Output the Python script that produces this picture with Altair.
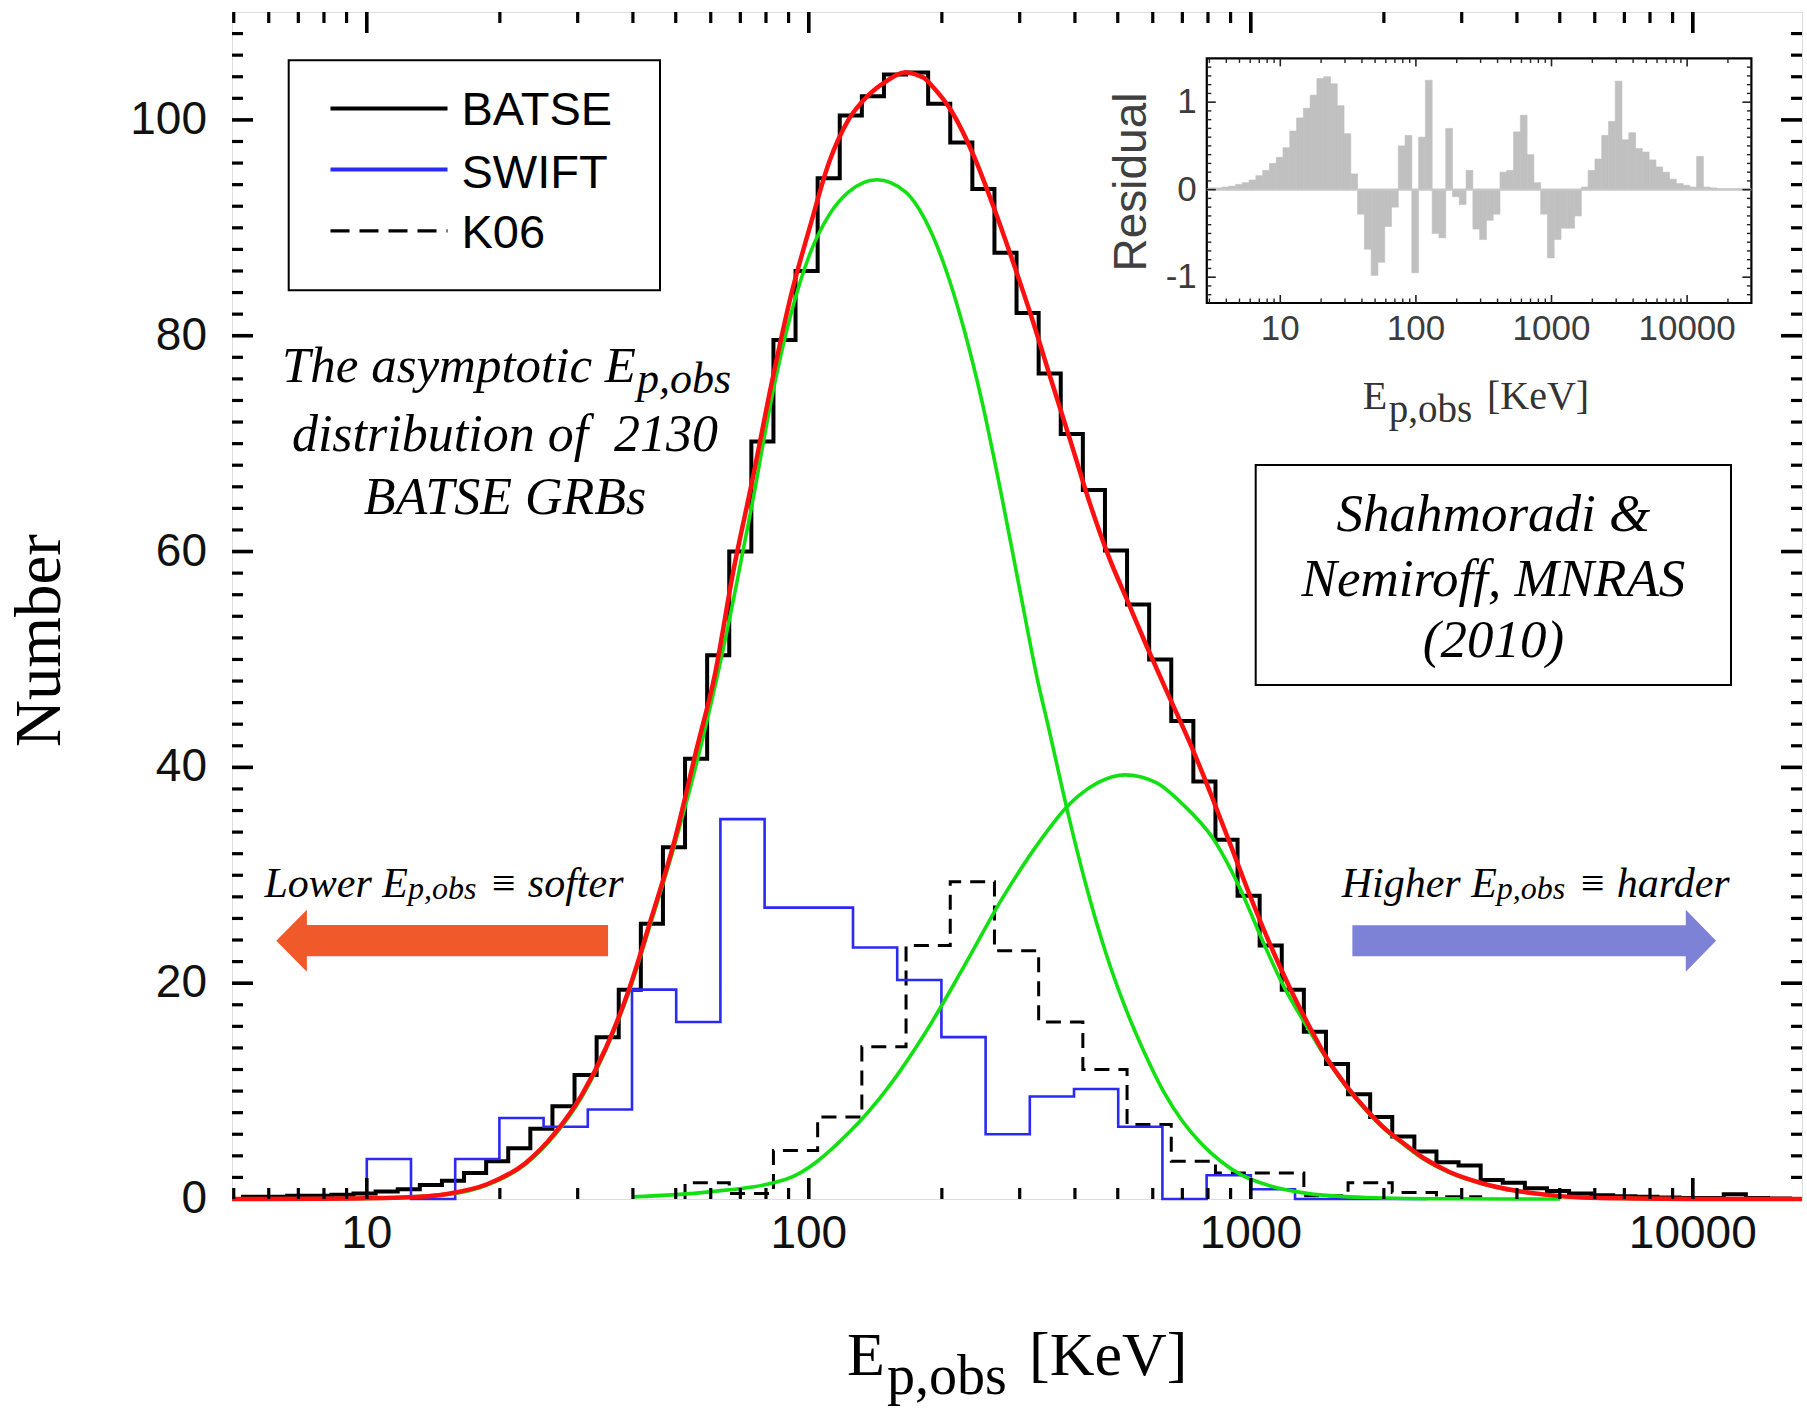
import altair as alt
import pandas as pd

# ---------------------------------------------------------------- data
# BATSE asymptotic Ep,obs histogram: 0.05-dex bins, first left edge log10(E)=0.72
BATSE_FIRST_EDGE_LOG = 0.72
BATSE_BIN_DEX = 0.05
BATSE_COUNTS = [
    0.2, 0.2, 0.3, 0.3, 0.4, 0.5, 0.7, 0.9, 1.3, 1.7,
    2.4, 3.5, 4.7, 6.5, 8.6, 11.5, 15.0, 19.4, 25.5, 32.6,
    40.8, 50.4, 60.0, 70.2, 79.6, 86.0, 94.6, 100.4, 102.2, 104.2,
    104.4, 101.5, 97.9, 93.6, 87.7, 82.1, 76.5, 70.9, 65.7, 60.1,
    55.1, 50.0, 44.3, 38.7, 33.3, 28.1, 23.5, 19.4, 15.5, 12.5,
    9.7, 7.6, 5.8, 4.4, 3.4, 3.1, 1.75, 1.5, 1.0, 0.75,
    0.5, 0.35, 0.25, 0.2, 0.15, 0.1, 0.1, 0.45, 0.1, 0.05,
]

# SWIFT histogram: 0.1-dex bins starting at 10 keV
SWIFT_FIRST_EDGE_LOG = 1.0
SWIFT_BIN_DEX = 0.1
SWIFT_COUNTS = [3.7, 0.0, 3.7, 7.5, 6.7, 8.3, 19.4, 16.4, 35.2, 27.0,
                27.0, 23.3, 20.3, 15.0, 6.0, 9.5, 10.2, 6.7, 0.0, 2.2, 0.9]
SWIFT_TAIL_E = 2500

# K06 histogram: 0.1-dex bins, first left edge log10(E)=1.72
K06_FIRST_EDGE_LOG = 1.72
K06_BIN_DEX = 0.1
K06_COUNTS = [1.5, 0.5, 4.5, 7.6, 14.1, 23.5, 29.4, 23.0, 16.4, 12.0,
              6.9, 3.5, 2.4, 2.4, 0.3, 1.5, 0.6, 0.2]

# residuals of the fit, per 0.05-dex bin, first left edge log10(E)=0.47
RESID_FIRST_EDGE_LOG = 0.47
RESID_BIN_DEX = 0.05
RESIDUALS = [
    0.02, 0.02, 0.03, 0.04, 0.06, 0.08, 0.11, 0.16, 0.22, 0.30,
    0.37, 0.48, 0.67, 0.82, 0.93, 1.08, 1.27, 1.29, 1.21, 0.96,
    0.64, 0.18, -0.28, -0.68, -0.98, -0.83, -0.42, -0.20, 0.50, 0.62,
    -0.95, 0.60, 1.25, -0.50, -0.55, 0.70, -0.08, -0.17, 0.22, -0.45,
    -0.57, -0.35, -0.28, 0.20, 0.22, 0.66, 0.85, 0.40, 0.08, -0.28,
    -0.78, -0.57, -0.44, -0.44, -0.30, 0.03, 0.22, 0.35, 0.62, 0.78,
    1.24, 0.57, 0.65, 0.47, 0.43, 0.34, 0.26, 0.20, 0.12, 0.07,
    0.05, 0.03, 0.38, 0.03, 0.02, 0.01, 0.01, 0.01, 0.01, 0.01,
]

# total fitted model (red)
FIT_E = [4.955, 7.9, 12.04, 15.3, 18.7, 22.8, 26.7, 30.7, 34.7, 39.1,
         44.0, 49.6, 55.9, 61.1, 67.5, 74.6, 82.4, 91.1, 100.6, 111.2,
         122.9, 135.7, 149.9, 164.4, 182.0, 190.5, 210.4, 237.1, 262.0, 289.4,
         319.8, 353.4, 390.4, 431.3, 476.4, 526.3, 581.8, 642.7, 673.0, 743.4,
         821.5, 907.8, 1002.5, 1108, 1224, 1352, 1494, 1651, 1824, 2015,
         2226, 2459, 2815, 3350, 3986, 4742, 5637, 7311, 10000, 17660]
FIT_N = [0.0, 0.02, 0.13, 0.49, 1.37, 3.3, 6.15, 9.7, 13.95, 19.3,
         26.0, 33.1, 41.9, 48.3, 58.2, 66.7, 75.6, 83.7, 90.1, 96.1,
         100.0, 102.2, 103.6, 104.4, 103.9, 103.1, 100.8, 96.5, 91.9, 86.9,
         81.6, 75.9, 70.3, 64.6, 59.6, 55.4, 51.2, 47.2, 45.4, 41.4,
         37.0, 32.4, 27.8, 23.5, 19.6, 16.1, 12.9, 10.4, 8.3, 6.5,
         5.1, 3.8, 2.5, 1.44, 0.76, 0.36, 0.14, 0.05, 0.01, 0.0]

# soft lognormal component (green)
SOFT_E = [4.955, 10, 15.3, 18.7, 22.8, 26.7, 30.7, 34.7, 39.1, 44.0,
          49.6, 55.9, 61.1, 67.5, 74.6, 82.4, 91.1, 100.6, 111.2, 122.9,
          142.6, 165.7, 183.0, 202.3, 223.4, 246.8, 272.6, 301.3, 329.6, 348.6,
          385.0, 425.6, 469.9, 519.3, 574.0, 633.9, 700.5, 774.1, 855.1, 944.8,
          1108, 1352, 1824, 2818, 5012]
SOFT_N = [0.0, 0.05, 0.45, 1.3, 3.2, 6.0, 9.5, 13.8, 19.1, 25.7,
          32.7, 40.6, 47.2, 55.5, 64.6, 74.2, 82.0, 87.6, 91.2, 93.3,
          94.45, 93.3, 90.8, 86.6, 80.9, 73.8, 65.3, 56.1, 48.0, 43.7,
          35.9, 28.8, 22.8, 17.8, 13.6, 10.0, 7.2, 5.1, 3.5, 2.3,
          1.2, 0.5, 0.14, 0.02, 0.0]

# hard lognormal component (green)
HARD_E = [39.8, 59.3, 88.5, 123.6, 150.9, 184.1, 224.8, 274.4, 335.1, 384.6,
          408.8, 451.9, 519.3, 609.4, 700.5, 821.5, 944.8, 1064, 1177, 1352,
          1494, 1651, 1824, 2015, 2226, 2459, 2815, 3350, 3986, 4742,
          5637, 7311, 10000]
HARD_N = [0.2, 0.66, 1.8, 6.2, 10.3, 15.5, 21.6, 27.9, 33.3, 36.4,
          37.4, 38.6, 39.3, 38.6, 36.6, 33.4, 28.8, 23.9, 20.0, 15.7,
          12.8, 10.3, 8.2, 6.4, 5.0, 3.7, 2.45, 1.4, 0.74, 0.35,
          0.14, 0.05, 0.01]

X_LABELS = ["10", "100", "1000", "10000"]
Y_LABELS = ["0", "20", "40", "60", "80", "100"]
INSET_X_LABELS = ["10", "100", "1000", "10000"]
INSET_Y_LABELS = ["1", "0", "-1"]

# ---------------------------------------------------------------- layout
W, H = 1570, 1187
XS = alt.Scale(type="log", domain=[4.955, 17660], nice=False)
YS = alt.Scale(domain=[0, 110], nice=False, zero=False)

IN_X0, IN_X1, IN_Y0, IN_Y1 = 974.8, 1519.4, 46.4, 291.0
IN_XDOM = [2.871, 29785]
IN_YDOM = [-1.295, 1.5]
IXS = alt.Scale(type="log", domain=IN_XDOM, range=[IN_X0, IN_X1], nice=False)
IYS = alt.Scale(domain=IN_YDOM, range=[IN_Y1, IN_Y0], nice=False, zero=False)

SANS = "Liberation Sans"
SERIF = "Liberation Serif"
BLUE = "#2a2af2"
GREEN = "#12e012"
RED = "#ff1010"
GREY_BAR = "#c0c0c0"
INSET_TEXT = "#3c3c3c"

ONE = pd.DataFrame({"a": [0]})


def step_outline(first_log, dex, counts, tail_e=None):
    edges = [10 ** (first_log + dex * k) for k in range(len(counts) + 1)]
    pts = [(edges[0], 0.0)]
    for k, c in enumerate(counts):
        pts.append((edges[k], c))
        pts.append((edges[k + 1], c))
    pts.append((edges[-1], 0.0))
    if tail_e:
        pts.append((tail_e, 0.0))
    return pd.DataFrame({"E": [p[0] for p in pts], "N": [p[1] for p in pts],
                         "i": list(range(len(pts)))})


def hist_line(df, color, width, dash=None):
    kw = dict(color=color, strokeWidth=width, strokeJoin="miter", strokeCap="butt")
    if dash:
        kw["strokeDash"] = dash
    return alt.Chart(df).mark_line(**kw).encode(
        x=alt.X("E:Q", scale=XS, axis=None),
        y=alt.Y("N:Q", scale=YS, axis=None),
        order="i:Q",
    )


def curve(E, N, color, width):
    return alt.Chart(pd.DataFrame({"E": E, "N": N})).mark_line(
        color=color, strokeWidth=width, interpolate="monotone"
    ).encode(
        x=alt.X("E:Q", scale=XS, axis=None),
        y=alt.Y("N:Q", scale=YS, axis=None),
    )


def label(text, x, y, size, font=SERIF, style="normal", align="left",
          baseline="alphabetic", angle=0, color="#000000"):
    kw = dict(align=align, baseline=baseline, font=font, fontSize=size,
              fontStyle=style, color=color)
    if angle:
        kw["angle"] = angle
    return alt.Chart(pd.DataFrame({"t": [text]})).mark_text(**kw).encode(
        x=alt.value(x), y=alt.value(y), text="t:N")


def x_ticks(vals, length, scale, ybot, ytop, width, color="black"):
    df = pd.DataFrame({"v": vals})
    base = alt.Chart(df).mark_rule(color=color, strokeWidth=width, strokeCap="butt")
    return [
        base.encode(x=alt.X("v:Q", scale=scale, axis=None),
                    y=alt.value(ybot), y2=alt.value(ybot - length)),
        base.encode(x=alt.X("v:Q", scale=scale, axis=None),
                    y=alt.value(ytop), y2=alt.value(ytop + length)),
    ]


def y_ticks(vals, length, scale, xleft, xright, width, color="black"):
    df = pd.DataFrame({"v": vals})
    base = alt.Chart(df).mark_rule(color=color, strokeWidth=width, strokeCap="butt")
    return [
        base.encode(y=alt.Y("v:Q", scale=scale, axis=None),
                    x=alt.value(xleft), x2=alt.value(xleft + length)),
        base.encode(y=alt.Y("v:Q", scale=scale, axis=None),
                    x=alt.value(xright), x2=alt.value(xright - length)),
    ]


# ---------------------------------------------------------------- main panel
batse = hist_line(step_outline(BATSE_FIRST_EDGE_LOG, BATSE_BIN_DEX, BATSE_COUNTS), "#000000", 4)
k06 = hist_line(step_outline(K06_FIRST_EDGE_LOG, K06_BIN_DEX, K06_COUNTS),
                "#000000", 3, dash=[15, 9])
swift = hist_line(step_outline(SWIFT_FIRST_EDGE_LOG, SWIFT_BIN_DEX, SWIFT_COUNTS, SWIFT_TAIL_E),
                  BLUE, 2.6)
soft = curve(SOFT_E, SOFT_N, GREEN, 3.6)
hard = curve(HARD_E, HARD_N, GREEN, 3.6)
fit = curve(FIT_E, FIT_N, RED, 4.5)

x_major = [10, 100, 1000, 10000]
x_minor = [m * d for d in (1, 10, 100, 1000) for m in range(2, 10) if 4.955 < m * d < 17660]
y_major = [20, 40, 60, 80, 100]
y_minor = [v for v in range(2, 110, 2) if v % 20]

main_ticks = (x_ticks(x_major, 21, XS, H, 0, 3.6) + x_ticks(x_minor, 11, XS, H, 0, 3.2)
              + y_ticks(y_major, 21, YS, 0, W, 3.6) + y_ticks(y_minor, 11, YS, 0, W, 3.2))

# tick labels of the main axes
x_lab = alt.Chart(pd.DataFrame({"v": x_major, "t": X_LABELS})).mark_text(
    align="center", baseline="alphabetic", font=SANS, fontSize=46, color="#111111"
).encode(x=alt.X("v:Q", scale=XS, axis=None), y=alt.value(H + 49), text="t:N")
y_lab = alt.Chart(pd.DataFrame({"v": [0, 20, 40, 60, 80, 100], "t": Y_LABELS})).mark_text(
    align="right", baseline="middle", font=SANS, fontSize=46, color="#111111"
).encode(y=alt.Y("v:Q", scale=YS, axis=None), x=alt.value(-25), text="t:N")

# direction arrows (centre position in data units, outline as a normalised path)
ARROWS = pd.DataFrame({"E": [14.81, 4377.0], "N": [23.94, 23.94]})
LEFT_ARROW = "M-1,0L-0.8155,-0.1869L-0.8155,-0.0946L1,-0.0946L1,0.0946L-0.8155,0.0946L-0.8155,0.1869Z"
RIGHT_ARROW = "M1,0L0.8334,-0.1705L0.8334,-0.0852L-1,-0.0852L-1,0.0852L0.8334,0.0852L0.8334,0.1705Z"
left_arrow = alt.Chart(ARROWS.iloc[[0]]).mark_point(
    shape=LEFT_ARROW, size=331.8 ** 2, filled=True, color="#f0592a", opacity=1, strokeWidth=0
).encode(x=alt.X("E:Q", scale=XS, axis=None), y=alt.Y("N:Q", scale=YS, axis=None))
right_arrow = alt.Chart(ARROWS.iloc[[1]]).mark_point(
    shape=RIGHT_ARROW, size=363.7 ** 2, filled=True, color="#7e82d6", opacity=1, strokeWidth=0
).encode(x=alt.X("E:Q", scale=XS, axis=None), y=alt.Y("N:Q", scale=YS, axis=None))

main = alt.layer(batse, k06, swift, soft, hard, fit, *main_ticks, x_lab, y_lab,
                 left_arrow, right_arrow)

# ---------------------------------------------------------------- residual inset
r_edges = [10 ** (RESID_FIRST_EDGE_LOG + RESID_BIN_DEX * k) for k in range(len(RESIDUALS) + 1)]
resid_df = pd.DataFrame({"lo": r_edges[:-1], "hi": r_edges[1:], "r": RESIDUALS,
                         "z": [0.0] * len(RESIDUALS)})

inset_frame = alt.Chart(ONE).mark_rect(fill="white", stroke="black", strokeWidth=2.2).encode(
    x=alt.value(IN_X0), x2=alt.value(IN_X1), y=alt.value(IN_Y0), y2=alt.value(IN_Y1))
zero_line = alt.Chart(pd.DataFrame({"a": [IN_XDOM[0]], "b": [IN_XDOM[1]], "z": [0.0]})).mark_rule(
    color="#c8c8c8", strokeWidth=2.2
).encode(x=alt.X("a:Q", scale=IXS, axis=None), x2="b:Q", y=alt.Y("z:Q", scale=IYS, axis=None))
resid_bars = alt.Chart(resid_df).mark_rect(color=GREY_BAR, stroke=GREY_BAR, strokeWidth=0.6).encode(
    x=alt.X("lo:Q", scale=IXS, axis=None), x2="hi:Q",
    y=alt.Y("z:Q", scale=IYS, axis=None), y2="r:Q")

ix_major = [10, 100, 1000, 10000]
ix_minor = [m * d for d in (1, 10, 100, 1000, 10000) for m in range(2, 10)
            if IN_XDOM[0] < m * d < IN_XDOM[1]]
iy_major = [-1, 0, 1]
iy_minor = [k / 10 for k in range(-12, 15) if k % 10]
inset_ticks = (x_ticks(ix_major, 8, IXS, IN_Y1, IN_Y0, 1.6, "#222222")
               + x_ticks(ix_minor, 4.5, IXS, IN_Y1, IN_Y0, 1.4, "#222222")
               + y_ticks(iy_major, 9, IYS, IN_X0, IN_X1, 1.6, "#222222")
               + y_ticks(iy_minor, 4.5, IYS, IN_X0, IN_X1, 1.4, "#222222"))

ix_lab = alt.Chart(pd.DataFrame({"v": ix_major, "t": INSET_X_LABELS})).mark_text(
    align="center", baseline="alphabetic", font=SANS, fontSize=35, color=INSET_TEXT
).encode(x=alt.X("v:Q", scale=IXS, axis=None), y=alt.value(328), text="t:N")
iy_lab = alt.Chart(pd.DataFrame({"v": [1, 0, -1], "t": INSET_Y_LABELS})).mark_text(
    align="right", baseline="middle", font=SANS, fontSize=35, color=INSET_TEXT
).encode(y=alt.Y("v:Q", scale=IYS, axis=None), x=alt.value(IN_X0 - 10), text="t:N")

inset = alt.layer(inset_frame, resid_bars, zero_line, *inset_ticks, ix_lab, iy_lab)

# ---------------------------------------------------------------- text & legend
legend_box = alt.Chart(ONE).mark_rect(fillOpacity=0, stroke="black", strokeWidth=2).encode(
    x=alt.value(56.7), x2=alt.value(428), y=alt.value(48.3), y2=alt.value(278.2))
leg_batse = alt.Chart(ONE).mark_rule(color="black", strokeWidth=4).encode(
    x=alt.value(98.5), x2=alt.value(215.5), y=alt.value(96.5))
leg_swift = alt.Chart(ONE).mark_rule(color=BLUE, strokeWidth=4).encode(
    x=alt.value(98.5), x2=alt.value(215.5), y=alt.value(157.6))
leg_k06 = alt.Chart(ONE).mark_rule(color="black", strokeWidth=3.2, strokeDash=[19, 10]).encode(
    x=alt.value(98.5), x2=alt.value(215.5), y=alt.value(218.8))

ref_box = alt.Chart(ONE).mark_rect(fillOpacity=0, stroke="black", strokeWidth=2).encode(
    x=alt.value(1023.7), x2=alt.value(1499), y=alt.value(453), y2=alt.value(673))

texts = [
    legend_box, leg_batse, leg_swift, leg_k06,
    label("BATSE", 229.5, 113, 47, font=SANS),
    label("SWIFT", 229.5, 175.5, 47, font=SANS),
    label("K06", 229.5, 236, 47, font=SANS),
    # description block
    label("The asymptotic E", 404, 370, 51, style="italic", align="right"),
    label("p,obs", 405, 381, 44, style="italic"),
    label("distribution of\u00a0 2130", 273, 439, 52, style="italic", align="center"),
    label("BATSE GRBs", 273, 502, 52, style="italic", align="center"),
    # reference box
    ref_box,
    label("Shahmoradi &", 1261.4, 519, 53, style="italic", align="center"),
    label("Nemiroff, MNRAS", 1261.4, 584, 53, style="italic", align="center"),
    label("(2010)", 1261.4, 645, 53, style="italic", align="center"),
    # arrow captions
    label("Lower E", 32.5, 885, 42, style="italic"),
    label("p,obs", 176, 887, 32, style="italic"),
    label("\u2261 softer", 257, 885, 42, style="italic"),
    label("Higher E", 1109.7, 885, 42, style="italic"),
    label("p,obs", 1264.7, 887, 32, style="italic"),
    label("\u2261 harder", 1346, 885, 42, style="italic"),
    # axis titles
    label("E", 615, 1363, 62),
    label("p,obs", 655, 1382, 56),
    label("[KeV]", 797, 1363, 62),
    label("Number", -172, 628.5, 65, align="center", angle=270),
    # inset titles
    label("Residual", 914, 170, 46, font=SANS, align="center", angle=270, color="#404040"),
    label("E", 1130.7, 396.5, 40, color="#333333"),
    label("p,obs", 1156.7, 409.8, 39, color="#333333"),
    label("[KeV]", 1255, 396.5, 40, color="#333333"),
]

chart = alt.layer(main, inset, *texts).resolve_scale(
    x="independent", y="independent"
).properties(
    width=W, height=H,
    padding={"left": 232, "top": 12, "right": 5, "bottom": 214},
    autosize=alt.AutoSizeParams(type="none"),
).configure_view(
    stroke="black", strokeWidth=4.5
).configure(background="white")

chart.save("out.html", embed_options={"renderer": "svg", "actions": False})
